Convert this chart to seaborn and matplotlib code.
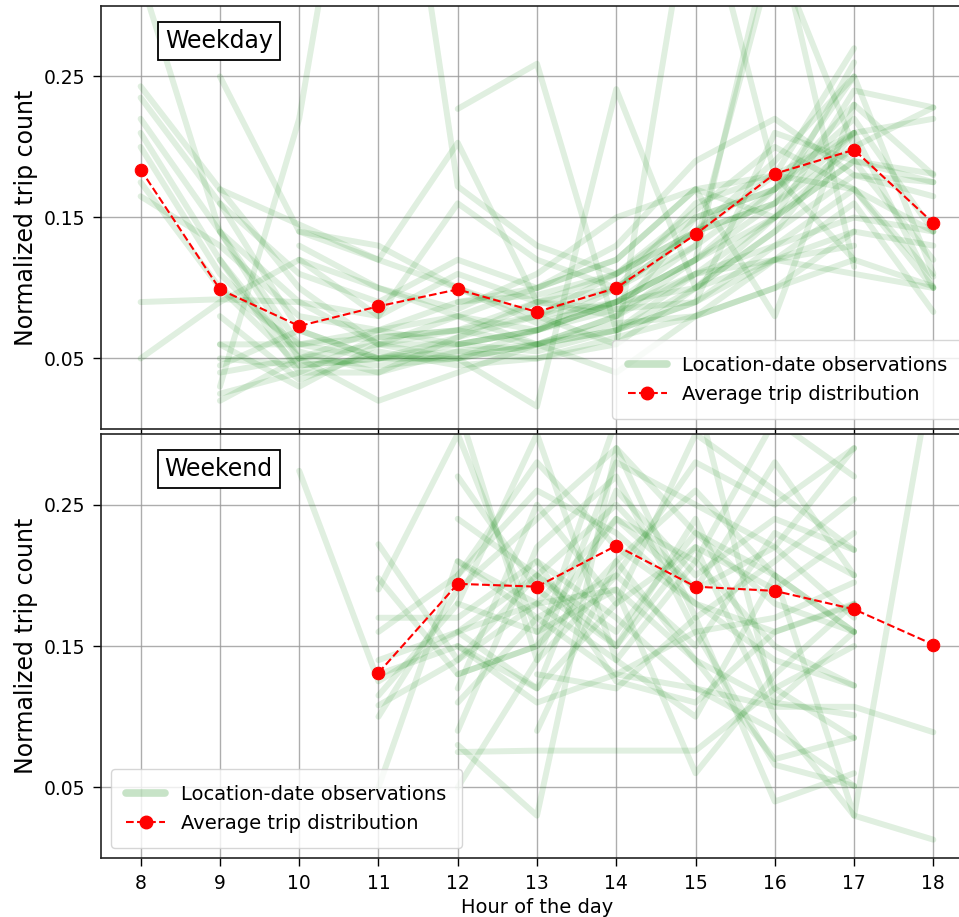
import numpy as np
import pandas as pd
import matplotlib
matplotlib.use('Agg')
import matplotlib.pyplot as plt
from matplotlib.lines import Line2D
import seaborn as sns

nan = np.nan

# Hours shown on the x axis
hours = list(range(8, 19))

# Weekday: one row per location-date observation (8h ... 18h)
weekday_obs = [
    [0.243, 0.170, 0.100, 0.060, 0.060, 0.070, 0.090, 0.120, 0.170, 0.230, 0.180],
    [0.235, 0.160, 0.070, 0.050, 0.050, 0.060, 0.080, 0.120, 0.160, 0.210, 0.100],
    [0.220, 0.140, 0.060, 0.065, 0.070, 0.090, 0.100, 0.140, 0.190, 0.250, nan],
    [0.210, 0.120, 0.050, 0.060, 0.050, 0.070, 0.090, 0.100, 0.140, 0.180, 0.165],
    [0.200, 0.110, 0.055, 0.040, 0.055, 0.060, 0.070, 0.100, 0.150, 0.200, 0.228],
    [0.175, 0.100, 0.045, 0.050, 0.065, 0.080, 0.090, 0.130, 0.170, 0.220, 0.140],
    [0.165, 0.130, 0.080, 0.070, 0.090, 0.095, 0.110, 0.155, 0.200, 0.170, 0.108],
    [0.090, 0.092, 0.090, 0.060, 0.070, 0.060, 0.080, 0.110, 0.130, 0.150, 0.140],
    [0.050, 0.090, 0.120, 0.100, 0.080, 0.100, 0.120, 0.170, 0.180, 0.120, 0.101],
    [0.320, 0.140, 0.090, 0.080, 0.110, 0.090, 0.085, 0.090, 0.210, 0.190, 0.181],
    [nan, 0.250, 0.140, 0.130, 0.100, 0.080, 0.110, 0.140, 0.160, 0.260, nan],
    [nan, 0.170, 0.145, 0.120, 0.100, 0.075, 0.090, 0.120, 0.150, 0.190, 0.120],
    [nan, 0.140, 0.050, 0.045, 0.050, 0.060, 0.075, 0.080, 0.120, 0.160, 0.083],
    [nan, 0.050, 0.045, 0.050, 0.055, 0.050, 0.060, 0.100, 0.140, 0.210, nan],
    [nan, 0.020, 0.050, 0.070, 0.060, 0.070, 0.085, 0.110, 0.150, 0.190, 0.175],
    [nan, 0.025, 0.040, 0.040, 0.065, 0.090, 0.110, 0.140, 0.160, 0.200, nan],
    [nan, 0.045, 0.070, 0.050, 0.060, 0.055, 0.070, 0.090, 0.120, 0.140, 0.130],
    [nan, 0.030, 0.220, 0.550, 0.172, 0.130, 0.110, 0.150, 0.170, 0.210, nan],
    [nan, nan, nan, nan, 0.227, 0.259, 0.070, 0.110, 0.120, 0.110, 0.100],
    [nan, 0.060, 0.060, 0.050, 0.050, 0.016, 0.241, 0.100, 0.120, 0.130, nan],
    [nan, nan, nan, nan, 0.060, 0.070, 0.090, 0.120, 0.360, 0.115, nan],
    [nan, nan, nan, nan, nan, 0.080, 0.060, 0.400, 0.180, 0.170, 0.140],
    [nan, nan, nan, nan, 0.090, 0.100, 0.120, 0.170, 0.080, 0.230, nan],
    [nan, 0.100, 0.060, 0.070, 0.080, 0.060, 0.070, 0.090, 0.130, 0.170, 0.100],
    [nan, 0.120, 0.040, 0.065, 0.070, 0.080, 0.100, 0.140, 0.180, 0.270, nan],
    [nan, 0.080, 0.035, 0.055, 0.045, 0.050, 0.065, 0.080, 0.100, 0.140, nan],
    [nan, nan, 0.130, 0.100, 0.085, 0.110, 0.150, 0.170, 0.150, 0.240, 0.228],
    [nan, 0.160, 0.110, 0.090, 0.120, 0.100, 0.130, 0.190, 0.220, 0.180, 0.175],
    [nan, 0.040, 0.050, 0.020, 0.040, 0.060, 0.040, 0.080, 0.100, 0.120, nan],
    [nan, nan, 0.120, 0.080, 0.160, 0.120, 0.100, 0.160, 0.180, 0.210, 0.220],
    [nan, nan, 0.140, 0.120, 0.203, 0.090, 0.080, 0.150, 0.170, 0.250, 0.110],
    [nan, 0.060, 0.030, 0.060, 0.080, 0.070, 0.100, 0.130, 0.340, 0.200, nan],
]

# Weekend: one row per location-date observation (8h ... 18h)
weekend_obs = [
    [nan, nan, 0.274, 0.125, 0.160, 0.200, 0.250, 0.190, 0.220, 0.170, nan],
    [nan, nan, nan, 0.222, 0.140, 0.180, 0.240, 0.210, 0.150, 0.122, nan],
    [nan, nan, nan, 0.198, 0.130, 0.150, 0.210, 0.260, 0.200, 0.160, nan],
    [nan, nan, nan, 0.170, 0.170, 0.210, 0.170, 0.120, 0.090, 0.051, nan],
    [nan, nan, nan, 0.160, 0.200, 0.280, 0.220, 0.180, 0.160, 0.179, nan],
    [nan, nan, nan, 0.130, 0.150, 0.120, 0.260, 0.200, 0.240, 0.218, nan],
    [nan, nan, nan, 0.115, 0.180, 0.160, 0.190, 0.140, 0.110, 0.101, nan],
    [nan, nan, nan, 0.108, 0.140, 0.200, 0.150, 0.240, 0.120, 0.085, nan],
    [nan, nan, nan, 0.100, 0.190, 0.240, 0.290, 0.170, 0.210, 0.254, nan],
    [nan, nan, nan, 0.050, 0.210, 0.170, 0.130, 0.160, 0.170, 0.195, nan],
    [nan, nan, nan, nan, 0.270, 0.190, 0.150, 0.220, 0.100, 0.030, 0.013],
    [nan, nan, nan, nan, 0.320, 0.140, 0.200, 0.280, 0.250, 0.290, nan],
    [nan, nan, nan, nan, 0.080, 0.030, 0.290, 0.230, 0.200, 0.160, nan],
    [nan, nan, nan, nan, 0.075, 0.076, 0.076, 0.076, 0.120, 0.150, nan],
    [nan, nan, nan, nan, 0.090, 0.220, 0.270, 0.160, 0.066, 0.051, nan],
    [nan, nan, nan, nan, 0.120, 0.250, 0.180, 0.300, 0.260, 0.218, nan],
    [nan, nan, nan, nan, 0.150, 0.110, 0.130, 0.120, 0.107, 0.107, 0.089],
    [nan, nan, nan, nan, 0.180, 0.300, 0.140, 0.210, 0.310, 0.270, nan],
    [nan, nan, nan, nan, 0.240, 0.200, 0.160, 0.230, 0.180, 0.160, nan],
    [nan, nan, nan, nan, nan, 0.130, 0.120, 0.170, 0.040, 0.060, nan],
    [nan, nan, nan, nan, nan, 0.090, 0.210, 0.140, 0.070, 0.085, nan],
    [nan, nan, nan, nan, 0.160, 0.180, 0.140, 0.100, 0.200, 0.030, 0.350],
    [nan, nan, nan, nan, 0.200, 0.260, 0.230, 0.180, 0.140, 0.122, nan],
    [nan, nan, nan, nan, nan, 0.210, 0.125, 0.110, 0.160, 0.180, nan],
    [nan, nan, nan, 0.190, 0.300, 0.160, 0.240, 0.190, 0.280, 0.200, nan],
    [nan, nan, nan, nan, 0.050, 0.140, 0.280, 0.250, 0.220, 0.290, nan],
    [nan, nan, nan, nan, 0.210, 0.180, 0.190, 0.060, 0.130, 0.180, nan],
    [nan, nan, nan, nan, 0.130, 0.150, 0.310, 0.330, 0.110, 0.160, nan],
    [nan, nan, nan, 0.140, 0.160, 0.120, 0.180, 0.220, 0.190, 0.230, nan],
    [nan, nan, nan, nan, 0.110, 0.170, 0.200, 0.150, 0.230, 0.200, nan],
]

# Average trip distribution (red)
weekday_avg = [0.184, 0.099, 0.073, 0.087, 0.099, 0.083, 0.100, 0.138, 0.181, 0.198, 0.146]
weekend_hours = list(range(11, 19))
weekend_avg = [0.131, 0.194, 0.192, 0.221, 0.192, 0.189, 0.176, 0.151]


def to_long(obs):
    rows = []
    for i, row in enumerate(obs):
        for h, v in zip(hours, row):
            if not np.isnan(v):
                rows.append({'obs': i, 'hour': h, 'value': v})
    return pd.DataFrame(rows)


sns.set_style('ticks')
plt.rcParams.update({'text.color': 'black', 'axes.labelcolor': 'black',
                     'xtick.color': 'black', 'ytick.color': 'black'})

fig = plt.figure(figsize=(9.59, 9.17), dpi=100)
ax1 = fig.add_axes([0.1053, 0.5322, 0.9093, 0.4613])
ax2 = fig.add_axes([0.1053, 0.0643, 0.9093, 0.4624], sharex=ax1)

panels = [
    (ax1, weekday_obs, hours, weekday_avg, 'Weekday', 'lower right'),
    (ax2, weekend_obs, weekend_hours, weekend_avg, 'Weekend', 'lower left'),
]

for ax, obs, avg_hours, avg, name, loc in panels:
    df = to_long(obs)
    sns.lineplot(data=df, x='hour', y='value', units='obs', estimator=None,
                 color='g', alpha=0.12, lw=4.3, legend=False, ax=ax)
    sns.lineplot(x=avg_hours, y=avg, color='red', linestyle='--', lw=1.5,
                 marker='o', markersize=9, markeredgecolor='red', ax=ax, zorder=5)

    ax.set_xlim(7.5, 18.5)
    ax.set_ylim(0, 0.3)
    ax.set_xticks(hours)
    ax.set_yticks([0.05, 0.15, 0.25])
    ax.grid(True, color='#999999', lw=1.0, alpha=0.8)
    ax.tick_params(labelsize=13.5, length=5.8, pad=5.5, width=1.0)
    ax.set_ylabel('Normalized trip count', fontsize=17)
    ax.set_xlabel('')
    for sp in ax.spines.values():
        sp.set_color('#222222')
        sp.set_linewidth(1.2)

    ax.text(0.135, 0.917, name, transform=ax.transAxes, fontsize=17,
            ha='center', va='center',
            bbox=dict(boxstyle='square,pad=0.3', facecolor='white', edgecolor='black', lw=1.3))

    handles = [
        Line2D([0], [0], color='g', alpha=0.22, lw=5.5),
        Line2D([0], [0], color='red', linestyle='--', lw=1.5, marker='o', markersize=9),
    ]
    ax.legend(handles, ['Location-date observations', 'Average trip distribution'],
              loc=loc, fontsize=14, borderpad=0.8)

ax1.tick_params(labelbottom=False)
ax2.set_xlabel('Hour of the day', fontsize=14)

fig.savefig('out.png', dpi=100)
